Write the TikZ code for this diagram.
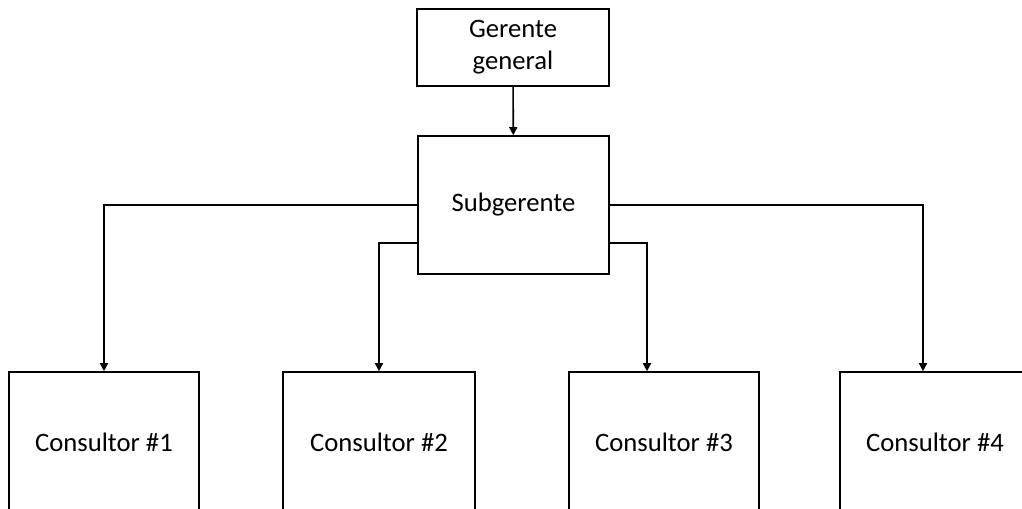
\documentclass[tikz,border=0pt]{standalone}
\usepackage{fontspec}
\setmainfont{Carlito}
\usetikzlibrary{arrows.meta}
\usetikzlibrary{positioning}
\begin{document}
\begin{tikzpicture}[x=0.75pt,y=-0.75pt,line width=1.2pt,
  every node/.style={draw,rectangle,inner sep=2pt,align=center,font=\fontsize{20}{24}\selectfont},
  arr/.style={-{Triangle[width=6pt,length=6pt]}}]
\useasboundingbox (0,0) rectangle (1022,508);
\clip (0,0) rectangle (1022,508);
\node[minimum width=144pt,minimum height=57.75pt] (gg) at (513,47.5) {\strut Gerente\\\strut general};
\node[minimum width=143.25pt,minimum height=103.5pt] (sub) at (513.5,205) {Subgerente};
\node[minimum width=142.5pt,minimum height=105pt] (c1) at (104,442) {Consultor \#1};
\node[minimum width=144pt,minimum height=105pt] (c2) at (379,442) {Consultor \#2};
\node[minimum width=142.5pt,minimum height=105pt] (c3) at (664,442) {Consultor \#3};
\node[minimum width=142.5pt,minimum height=105pt] (c4) at (935,442) {Consultor \#4};
\draw[arr] (gg) -- (sub);
\draw[arr] (sub.west) -| (c1.north);
\draw[arr] ([yshift=-28.5pt]sub.west) -| (c2.north);
\draw[arr] ([yshift=-28.5pt]sub.east) -| ([xshift=-12.75pt]c3.north);
\draw[arr] (sub.east) -| ([xshift=-9pt]c4.north);
\end{tikzpicture}
\end{document}
